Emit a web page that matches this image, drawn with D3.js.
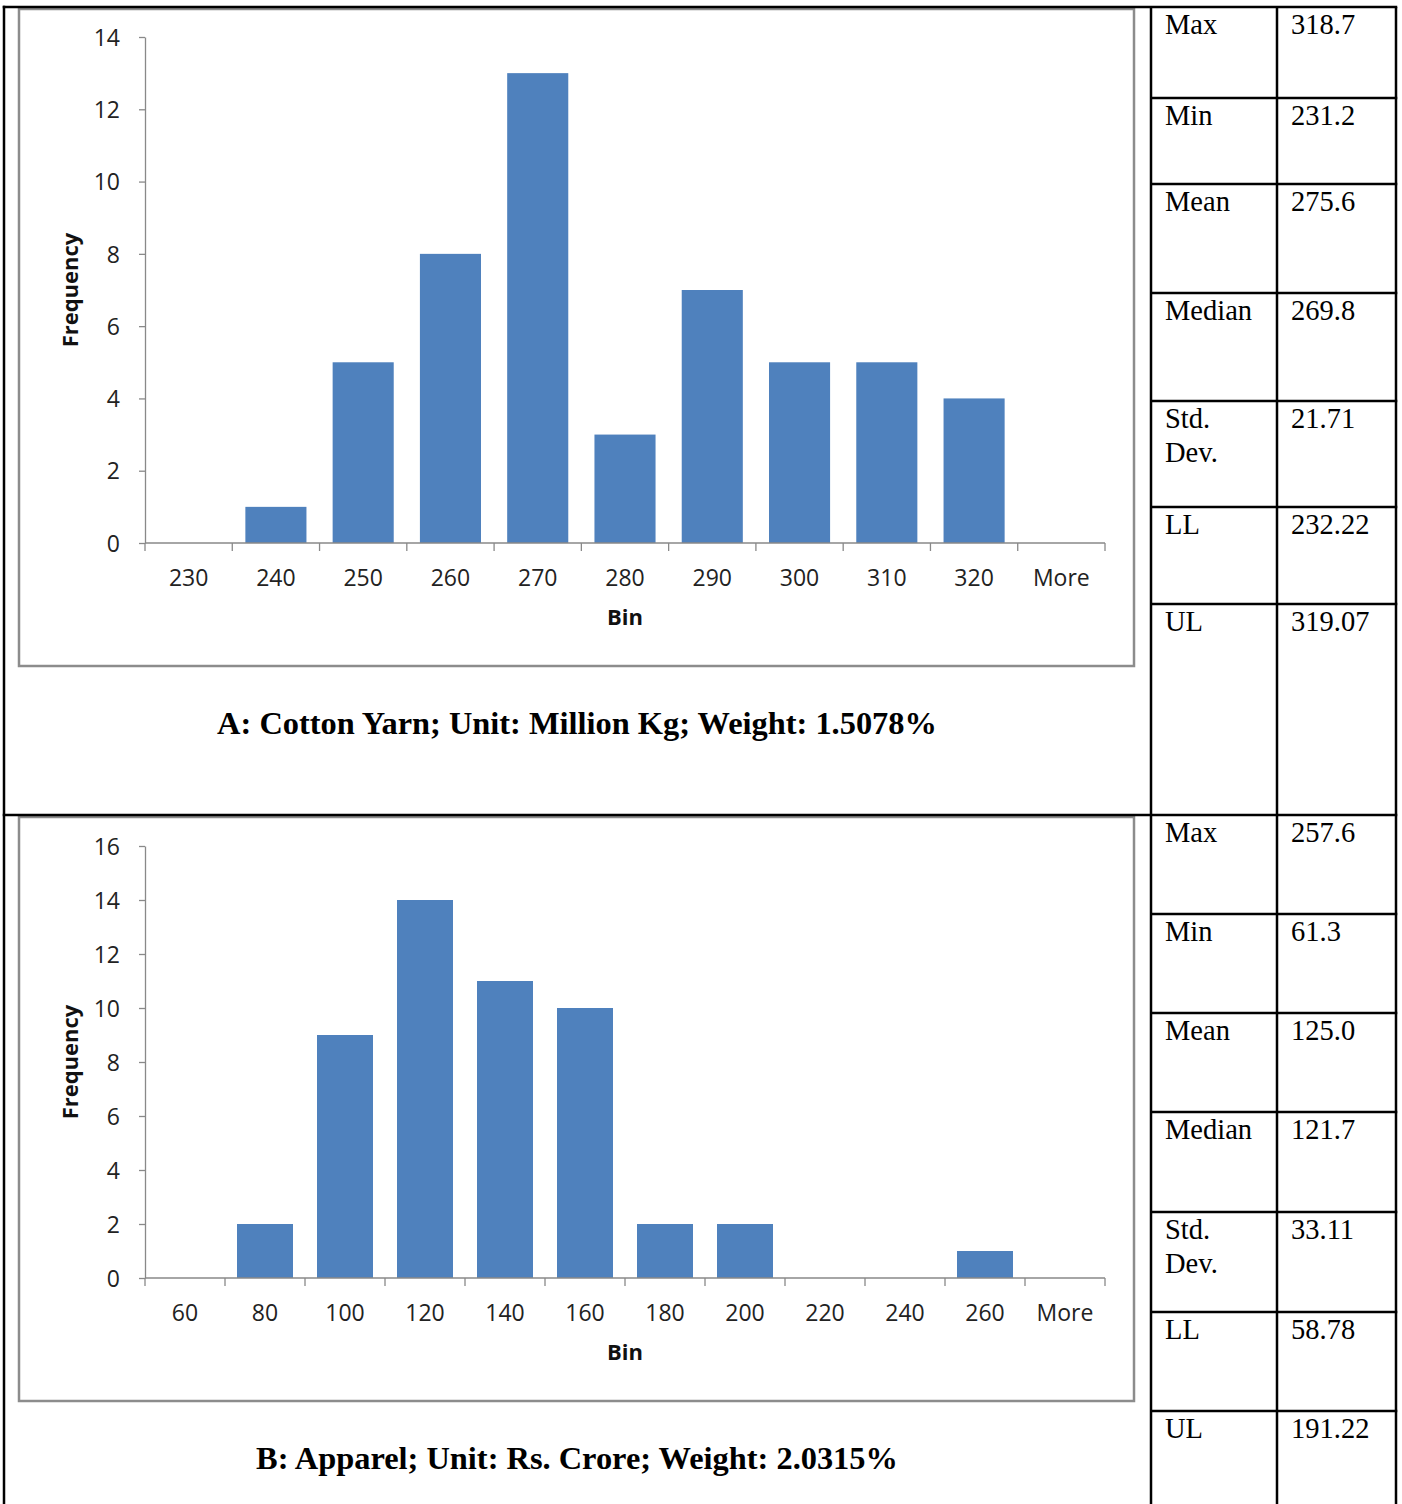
<!DOCTYPE html>
<html>
<head>
<meta charset="utf-8">
<script src="https://cdn.jsdelivr.net/npm/d3@7"></script>
<style>
  html, body { margin: 0; padding: 0; background: #fff; }
  svg { display: block; }
  .tick text { font-family: "Open Sans", "Liberation Sans", sans-serif; font-size: 23px; fill: #222; }
  .axis path, .axis line { stroke: #898989; stroke-width: 1.3px; }
  .axis-title { font-family: "Open Sans", "Liberation Sans", sans-serif; font-weight: bold; font-size: 22px; fill: #111; }
  .caption { font-family: "Liberation Serif", "Times New Roman", serif; font-weight: bold; font-size: 32.4px; fill: #000; }
  .cell { font-family: "Liberation Serif", "Times New Roman", serif; font-size: 28.5px; fill: #000; }
</style>
</head>
<body>
<svg id="page" width="1402" height="1504"></svg>
<script>
// Histogram A: Cotton Yarn
const binsA = ["230", "240", "250", "260", "270", "280", "290", "300", "310", "320", "More"];
const freqA = [0, 1, 5, 8, 13, 3, 7, 5, 5, 4, 0];
const yTicksA = [0, 2, 4, 6, 8, 10, 12, 14];

// Histogram B: Apparel
const binsB = ["60", "80", "100", "120", "140", "160", "180", "200", "220", "240", "260", "More"];
const freqB = [0, 2, 9, 14, 11, 10, 2, 2, 0, 0, 1, 0];
const yTicksB = [0, 2, 4, 6, 8, 10, 12, 14, 16];

// Summary statistics
const statNames = [["Max"], ["Min"], ["Mean"], ["Median"], ["Std.", "Dev."], ["LL"], ["UL"]];
const statsA = ["318.7", "231.2", "275.6", "269.8", "21.71", "232.22", "319.07"];
const statsB = ["257.6", "61.3", "125.0", "121.7", "33.11", "58.78", "191.22"];

const captionA = "A: Cotton Yarn; Unit: Million Kg; Weight: 1.5078%";
const captionB = "B: Apparel; Unit: Rs. Crore; Weight: 2.0315%";

const svg = d3.select("#page");

function histogram(opts) {
  const g = svg.append("g");
  // chart frame
  g.append("rect")
    .attr("x", opts.frame[0]).attr("y", opts.frame[1])
    .attr("width", opts.frame[2] - opts.frame[0]).attr("height", opts.frame[3] - opts.frame[1])
    .attr("fill", "#fff").attr("stroke", "#8c8c8c").attr("stroke-width", 2.5);

  const x = d3.scaleBand().domain(opts.bins).range([opts.left, opts.right])
    .paddingInner(0.3).paddingOuter(0.15);
  const y = d3.scaleLinear().domain([0, d3.max(opts.yTicks)]).range([opts.zero, opts.top]);
  const step = x.step();

  // bars
  g.selectAll("rect.bar").data(opts.bins.map((b, i) => ({ b, v: opts.freq[i] })).filter(d => d.v > 0))
    .join("rect").attr("class", "bar")
    .attr("x", d => x(d.b)).attr("width", x.bandwidth())
    .attr("y", d => y(d.v)).attr("height", d => y(0) - y(d.v))
    .attr("fill", "#4f81bd");

  // y axis
  const ya = g.append("g").attr("class", "axis")
    .attr("transform", `translate(${opts.left},0)`)
    .call(d3.axisLeft(y).tickValues(opts.yTicks).tickSize(6).tickPadding(19).tickSizeOuter(0));
  ya.selectAll(".tick text").attr("dy", "0.36em");

  // x axis line with boundary ticks
  const xa = g.append("g").attr("class", "axis");
  xa.append("line").attr("x1", opts.left).attr("x2", opts.right)
    .attr("y1", y(0)).attr("y2", y(0));
  xa.selectAll("line.b").data(d3.range(opts.bins.length + 1)).join("line").attr("class", "b")
    .attr("x1", i => opts.left + i * step).attr("x2", i => opts.left + i * step)
    .attr("y1", y(0)).attr("y2", y(0) + 8);
  xa.selectAll("text").data(opts.bins).join("text")
    .attr("class", "tick-label")
    .style("font-family", '"Open Sans", "Liberation Sans", sans-serif')
    .style("font-size", "23px").style("fill", "#222")
    .attr("text-anchor", "middle")
    .attr("x", d => x(d) + x.bandwidth() / 2)
    .attr("y", y(0) + 43)
    .text(d => d);

  // axis titles
  g.append("text").attr("class", "axis-title").attr("text-anchor", "middle")
    .attr("x", (opts.left + opts.right) / 2).attr("y", y(0) + 82).text("Bin");
  g.append("text").attr("class", "axis-title").attr("text-anchor", "middle")
    .attr("transform", `translate(78,${(y(0) + opts.top) / 2}) rotate(-90)`)
    .text("Frequency");

  // caption
  g.append("text").attr("class", "caption").attr("text-anchor", "middle")
    .attr("x", 577).attr("y", opts.captionY).text(opts.caption);
}

histogram({
  frame: [19, 9, 1134, 666], bins: binsA, freq: freqA, yTicks: yTicksA,
  left: 145, right: 1105, zero: 543, top: 37, caption: captionA, captionY: 734
});
histogram({
  frame: [19, 817, 1134, 1401], bins: binsB, freq: freqB, yTicks: yTicksB,
  left: 145, right: 1105, zero: 1278, top: 846, caption: captionB, captionY: 1469
});

// statistics tables
function statsTable(values, rowTops, bottom) {
  const g = svg.append("g");
  const colX = [1151, 1277, 1396];
  rowTops.forEach((t, i) => {
    statNames[i].forEach((line, k) => {
      g.append("text").attr("class", "cell").attr("x", 1165).attr("y", t + 27 + k * 34).text(line);
    });
    g.append("text").attr("class", "cell").attr("x", 1291).attr("y", t + 27).text(values[i]);
  });
  g.selectAll("line.h").data(rowTops.slice(1)).join("line")
    .attr("x1", colX[0]).attr("x2", colX[2] + 1.25).attr("y1", d => d).attr("y2", d => d)
    .attr("stroke", "#000").attr("stroke-width", 2.5);
  g.selectAll("line.v").data(colX).join("line")
    .attr("x1", d => d).attr("x2", d => d).attr("y1", rowTops[0]).attr("y2", bottom)
    .attr("stroke", "#000").attr("stroke-width", 2.5);
}
statsTable(statsA, [7, 98, 184, 293, 401, 507, 604], 815);
statsTable(statsB, [815, 914, 1013, 1112, 1212, 1312, 1411], 1504);

// outer frame lines
svg.append("line").attr("x1", 4).attr("x2", 4).attr("y1", 5.75).attr("y2", 1504)
  .attr("stroke", "#000").attr("stroke-width", 2.5);
svg.append("line").attr("x1", 2.75).attr("x2", 1397.25).attr("y1", 7).attr("y2", 7)
  .attr("stroke", "#000").attr("stroke-width", 2.5);
svg.append("line").attr("x1", 2.75).attr("x2", 1397.25).attr("y1", 815).attr("y2", 815)
  .attr("stroke", "#000").attr("stroke-width", 2.5);
</script>
</body>
</html>
